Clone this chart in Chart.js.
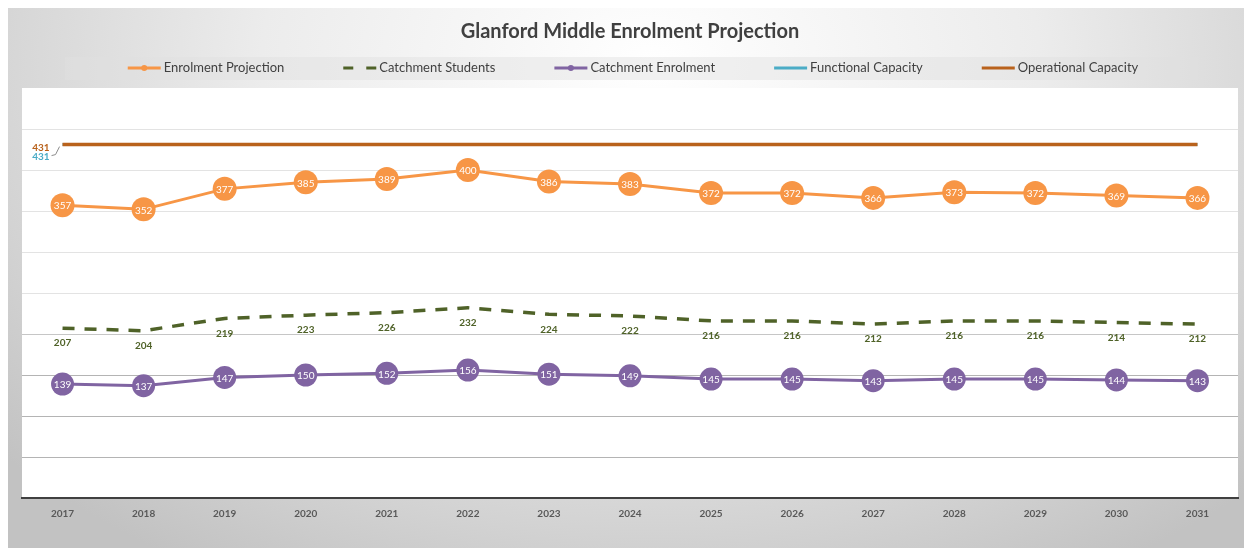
<!DOCTYPE html>
<html>
<head>
<meta charset="utf-8">
<title>Glanford Middle Enrolment Projection</title>
<script src="https://cdn.jsdelivr.net/npm/chart.js@4.4.1/dist/chart.umd.min.js"></script>
<style>
    body { margin: 0; background: #ffffff; }
    #wrap { position: relative; width: 1250px; height: 548px; overflow: hidden; }
    #panel {
        position: absolute; left: 8px; top: 8px; width: 1236px; height: 540px;
        background: radial-gradient(ellipse 70% 110% at 52% 10%, #ffffff 0%, #ececec 45%, #d2d2d2 80%, #c2c2c2 100%);
    }
    #enrolment-chart { position: absolute; left: 0; top: 0; }
</style>
</head>
<body>
<div id="wrap">
    <div id="panel"></div>
    <canvas id="enrolment-chart" width="1250" height="548"></canvas>
</div>
<script>
// Données du graphique
const years = ['2017', '2018', '2019', '2020', '2021', '2022', '2023', '2024', '2025', '2026', '2027', '2028', '2029', '2030', '2031'];
const enrolmentProjection = [357, 352, 377, 385, 389, 400, 386, 383, 372, 372, 366, 373, 372, 369, 366];
const catchmentStudents = [207, 204, 219, 223, 226, 232, 224, 222, 216, 216, 212, 216, 216, 214, 212];
const catchmentEnrolment = [139, 137, 147, 150, 152, 156, 151, 149, 145, 145, 143, 145, 145, 144, 143];
const functionalCapacity = [431, 431, 431, 431, 431, 431, 431, 431, 431, 431, 431, 431, 431, 431, 431];
const operationalCapacity = [431, 431, 431, 431, 431, 431, 431, 431, 431, 431, 431, 431, 431, 431, 431];
const yTicks = { min: 0, max: 500, step: 50 };

const ORANGE = '#f79646';
const OLIVE = '#4f6228';
const PURPLE = '#8064a2';
const TEAL = '#4bacc6';
const BROWN = '#b9621c';
const FONT = 'Lato, "Open Sans", sans-serif';

// Fond blanc de la zone de tracé
const plotBackground = {
    id: 'plotBackground',
    beforeDraw(chart) {
        const { ctx, chartArea } = chart;
        ctx.save();
        ctx.fillStyle = '#ffffff';
        ctx.fillRect(chartArea.left, chartArea.top, chartArea.right - chartArea.left, chartArea.bottom - chartArea.top);
        ctx.restore();
    }
};

// Légende dessinée à la main (espacement régulier comme dans Excel)
const slotLegend = {
    id: 'slotLegend',
    afterDraw(chart) {
        const ctx = chart.ctx;
        const items = chart.data.datasets;
        const markerW = 33;
        const gap = 59;
        const y = 68;
        ctx.save();
        ctx.fillStyle = 'rgba(225, 225, 225, 0.45)';
        ctx.fillRect(65, 57, 1133, 23);
        ctx.font = '13px ' + FONT;
        ctx.textBaseline = 'middle';
        const widths = items.map(ds => markerW + 3 + ctx.measureText(ds.label).width);
        const total = widths.reduce((s, w) => s + w, 0) + gap * (items.length - 1);
        let x = 633 - total / 2;
        items.forEach((ds, k) => {
            ctx.strokeStyle = ds.borderColor;
            ctx.lineWidth = 3;
            ctx.setLineDash(ds.borderDash && ds.borderDash.length ? [10, 13] : []);
            ctx.beginPath();
            ctx.moveTo(x, y);
            ctx.lineTo(x + markerW, y);
            ctx.stroke();
            ctx.setLineDash([]);
            if (ds.pointRadius > 0) {
                ctx.fillStyle = ds.borderColor;
                ctx.beginPath();
                ctx.arc(x + markerW / 2, y, 3, 0, Math.PI * 2);
                ctx.fill();
            }
            ctx.fillStyle = '#404040';
            ctx.textAlign = 'left';
            ctx.fillText(ds.label, x + markerW + 3, y);
            x += widths[k] + gap;
        });
        ctx.restore();
    }
};

// Étiquettes de données
const dataLabels = {
    id: 'dataLabels',
    afterDatasetsDraw(chart) {
        const ctx = chart.ctx;
        ctx.save();
        chart.data.datasets.forEach((ds, i) => {
            const meta = chart.getDatasetMeta(i);
            if (meta.hidden) return;
            meta.data.forEach((pt, j) => {
                const v = ds.data[j];
                if (ds.labelMode === 'inside') {
                    ctx.font = '10px ' + FONT;
                    ctx.fillStyle = '#ffffff';
                    ctx.textAlign = 'center';
                    ctx.textBaseline = 'middle';
                    ctx.fillText(v, pt.x, pt.y + 1);
                } else if (ds.labelMode === 'below') {
                    ctx.font = 'bold 10px ' + FONT;
                    ctx.fillStyle = OLIVE;
                    ctx.textAlign = 'center';
                    ctx.textBaseline = 'middle';
                    ctx.fillText(v, pt.x, pt.y + 15);
                } else if (ds.labelMode === 'leftFirst' && j === 0) {
                    ctx.font = 'bold 10px ' + FONT;
                    ctx.fillStyle = ds.borderColor;
                    ctx.textAlign = 'right';
                    ctx.textBaseline = 'middle';
                    ctx.fillText(v, pt.x - 13, pt.y + ds.labelShift);
                    if (ds.labelShift > 8) {
                        ctx.strokeStyle = '#8c8c8c';
                        ctx.lineWidth = 1;
                        ctx.beginPath();
                        ctx.moveTo(pt.x - 11, pt.y + 11);
                        ctx.lineTo(pt.x - 7, pt.y + 10);
                        ctx.lineTo(pt.x - 3, pt.y + 2);
                        ctx.stroke();
                    }
                }
            });
        });
        ctx.restore();
    }
};

function gridColor(context) {
    const v = context.tick ? context.tick.value : 0;
    if (v === 0 || v === yTicks.max) return 'rgba(0,0,0,0)';
    if (v <= 150) return '#b4b4b4';
    if (v <= 200) return '#c6c6c6';
    return '#e3e3e3';
}

const ctx = document.getElementById('enrolment-chart');
new Chart(ctx, {
    type: 'line',
    data: {
        labels: years,
        datasets: [
            {
                label: 'Enrolment Projection',
                data: enrolmentProjection,
                borderColor: ORANGE,
                backgroundColor: ORANGE,
                borderWidth: 3,
                pointRadius: 12,
                pointBorderWidth: 0,
                pointBackgroundColor: ORANGE,
                tension: 0,
                labelMode: 'inside',
                order: 0
            },
            {
                label: 'Catchment Students',
                data: catchmentStudents,
                borderColor: OLIVE,
                backgroundColor: OLIVE,
                borderWidth: 3.5,
                borderDash: [12, 10],
                pointRadius: 0,
                tension: 0,
                labelMode: 'below',
                order: 0
            },
            {
                label: 'Catchment Enrolment',
                data: catchmentEnrolment,
                borderColor: PURPLE,
                backgroundColor: PURPLE,
                borderWidth: 3,
                pointRadius: 11.5,
                pointBorderWidth: 0,
                pointBackgroundColor: PURPLE,
                tension: 0,
                labelMode: 'inside',
                order: 0
            },
            {
                label: 'Functional Capacity',
                data: functionalCapacity,
                borderColor: TEAL,
                backgroundColor: TEAL,
                borderWidth: 3,
                pointRadius: 0,
                tension: 0,
                labelMode: 'leftFirst',
                labelShift: 12,
                order: 2
            },
            {
                label: 'Operational Capacity',
                data: operationalCapacity,
                borderColor: BROWN,
                backgroundColor: BROWN,
                borderWidth: 3.5,
                pointRadius: 0,
                tension: 0,
                labelMode: 'leftFirst',
                labelShift: 3,
                order: 1
            }
        ]
    },
    options: {
        responsive: false,
        animation: false,
        events: [],
        layout: {
            padding: { left: 22, right: 12, top: 8, bottom: 18 }
        },
        plugins: {
            legend: { display: false },
            tooltip: { enabled: false },
            title: {
                display: true,
                text: 'Glanford Middle Enrolment Projection',
                color: '#404040',
                font: { family: FONT, size: 20, weight: 'bold' },
                padding: { top: 12, bottom: 44 }
            }
        },
        scales: {
            x: {
                offset: true,
                grid: { display: false, drawTicks: false },
                border: { display: true, color: '#404040', width: 2 },
                ticks: {
                    color: '#595959',
                    padding: 10,
                    font: { family: FONT, size: 10, weight: 'bold' }
                }
            },
            y: {
                min: yTicks.min,
                max: yTicks.max,
                grid: { color: gridColor, lineWidth: 1, drawTicks: false },
                border: { display: false },
                ticks: { display: false, stepSize: yTicks.step }
            }
        }
    },
    plugins: [plotBackground, slotLegend, dataLabels]
});
</script>
</body>
</html>
